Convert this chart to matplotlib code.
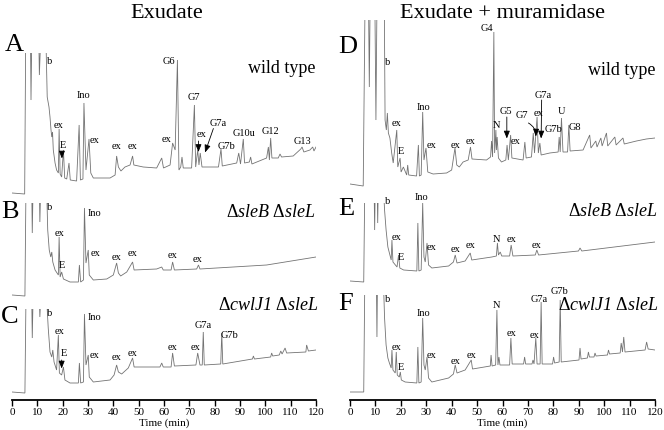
"""
HPLC traces of spore exudates, with and without muramidase digestion
"""

import matplotlib
matplotlib.use("Agg")
import matplotlib.pyplot as plt

plt.rcParams['font.family'] = ['Liberation Serif', 'DejaVu Serif']
plt.rcParams['mathtext.fontset'] = 'custom'
plt.rcParams['mathtext.rm'] = 'Liberation Serif'
plt.rcParams['mathtext.it'] = 'Liberation Serif:italic'
plt.rcParams['mathtext.cal'] = 'Liberation Serif:italic'

############## DATA (time in min, signal in arbitrary units) ###############

column_titles = ["Exudate", "Exudate + muramidase"]
tick_values = [0, 10, 20, 30, 40, 50, 60, 70, 80, 90, 100, 110, 120]
x_label = "Time (min)"

# A - exudate, wild type
a_time = [0, 5.0, 5.4, 7.3, 7.5, 7.8, 10.6, 10.8, 11.3, 13.4, 13.9, 14.6, 15.0, 15.4, 15.7,
          16.0, 16.3, 17.0, 17.6, 18.3, 18.6, 19.0, 19.6, 20.3, 20.8, 21.6, 22.5, 23.0,
          25.5, 26.5, 27.0, 28.0, 28.4, 29.2, 30.4, 31.1, 32.1, 38.7, 40.7, 41.3, 42.0,
          43.0, 44.6, 46.6, 47.6, 48.1, 51.8, 57.1, 59.1, 59.8, 62.4, 63.4, 64.4, 65.3,
          65.9, 66.6, 67.1, 67.6, 70.9, 72.0, 72.5, 73.3, 73.8, 74.3, 75.0, 81.5, 82.5,
          83.0, 88.7, 89.5, 90.2, 91.3, 91.8, 93.7, 94.2, 94.7, 100.5, 101.2, 101.6,
          102.1, 102.6, 105.1, 105.8, 106.4, 111.0, 114.0, 114.5, 115.2, 117.6, 118.7,
          119.2, 120.0]
a_sig = [7, 6, 160, 160, 100, 160, 160, 125, 160, 160, 103, 93, 83, 70, 63,
         68, 50, 37, 30, 27, 71, 26, 23, 50, 22, 21, 37, 20,
         19, 75, 20, 21, 97, 30, 61, 27, 22, 22, 25, 44, 33,
         29, 33, 35, 44, 35, 33, 32, 42, 32, 35, 57, 50, 140,
         30, 33, 43, 32, 32, 95, 33, 50, 35, 47, 33, 33, 51,
         34, 37, 47, 36, 61, 37, 38, 43, 36, 42, 53, 40,
         62, 42, 42, 46, 43, 44, 51, 53, 48, 50, 53,
         49, 53]

# B - exudate, sleB sleL
b_time = [0, 5.1, 5.5, 7.8, 8.0, 8.3, 10.8, 11.0, 11.3, 13.7, 14.1, 14.7, 15.3, 15.7, 16.1,
          17.0, 18.3, 18.6, 19.0, 19.6, 20.3, 22.9, 26.2, 26.6, 27.1, 28.2, 28.6, 29.2,
          30.1, 30.5, 32.1, 37.4, 40.0, 41.3, 42.0, 42.9, 45.3, 47.6, 48.2, 57.1, 59.1,
          59.7, 62.8, 63.4, 64.1, 72.9, 73.6, 74.2, 100.5, 120.0]
b_sig = [5, 4, 110, 110, 67, 110, 110, 78, 110, 110, 70, 50, 43, 48, 38,
         30, 25, 63, 23, 28, 21, 18, 18, 35, 18, 20, 92, 37,
         50, 25, 20, 21, 25, 37, 27, 24, 28, 38, 30, 31, 33,
         30, 30, 38, 30, 31, 35, 31, 35, 43]

# C - exudate, cwlJ1 sleL
c_time = [0, 5.1, 5.5, 7.8, 8.0, 8.3, 10.8, 11.0, 11.3, 13.7, 14.3, 15.0, 15.7, 16.1, 16.6,
          17.6, 18.3, 18.7, 19.6, 20.3, 20.9, 22.9, 26.2, 26.6, 27.1, 28.2, 28.6, 29.2,
          30.1, 30.5, 32.1, 38.7, 40.3, 41.3, 42.0, 43.3, 45.9, 47.6, 48.2, 58.4, 59.1,
          59.7, 62.8, 63.4, 64.1, 72.6, 73.3, 74.2, 75.1, 75.5, 75.9, 82.4, 82.8, 83.2,
          94.9, 95.3, 95.7, 102.1, 102.5, 102.9, 105.5, 106.1, 106.6, 107.8, 108.4,
          116.0, 116.3, 117.0, 120.0]
c_sig = [8, 7, 100, 100, 62, 100, 100, 83, 100, 100, 72, 48, 43, 50, 38,
         30, 65, 27, 25, 33, 20, 17, 17, 37, 17, 18, 86, 35,
         45, 23, 18, 20, 25, 35, 28, 26, 32, 42, 33, 33, 37,
         33, 33, 47, 34, 35, 47, 35, 35, 68, 35, 36, 67, 36,
         41, 44, 41, 43, 47, 44, 45, 49, 46, 52, 47,
         48, 55, 49, 50]

# D - exudate + muramidase, wild type
d_time = [0, 5.2, 5.9, 7.3, 7.6, 7.9, 9.8, 10.2, 10.6, 13.5, 13.8, 14.3, 14.7, 15.1, 15.7,
          16.4, 17.0, 18.4, 18.8, 19.7, 20.1, 21.0, 22.3, 22.7, 23.1, 26.2, 26.9, 27.3,
          28.0, 28.6, 29.1, 29.9, 30.6, 32.7, 38.0, 40.0, 41.3, 42.0, 43.0, 44.5, 46.5,
          47.4, 48.0, 53.7, 55.3, 55.7, 56.1, 56.6, 56.9, 57.4, 57.6, 57.9, 58.4, 59.6,
          61.3, 61.8, 62.3, 63.2, 63.7, 68.1, 68.8, 69.3, 71.4, 72.1, 72.6, 73.6, 74.1,
          74.7, 75.2, 78.6, 81.9, 82.3, 82.7, 83.2, 83.8, 85.6, 86.1, 86.6, 91.7, 94.3,
          94.8, 96.7, 97.2, 98.7, 99.2, 100.9, 101.4, 104.2, 104.7, 107.4, 107.9, 112.7,
          116.6, 120.0]
d_sig = [6, 4, 185, 185, 103, 185, 185, 70, 185, 185, 70, 60, 77, 57, 52,
         37, 27, 60, 23, 32, 18, 23, 15, 25, 15, 14, 45, 14,
         15, 78, 30, 42, 18, 16, 17, 20, 42, 25, 23, 28, 30,
         43, 31, 30, 33, 49, 33, 158, 37, 60, 40, 53, 32, 28,
         30, 45, 30, 55, 32, 30, 48, 32, 33, 57, 37, 73, 37,
         47, 35, 37, 38, 53, 38, 72, 38, 38, 65, 39, 40, 55,
         42, 49, 43, 52, 44, 57, 44, 53, 45, 52, 46, 49,
         51, 52]

# E - exudate + muramidase, sleB sleL
e_time = [0, 5.4, 5.8, 9.5, 9.7, 9.9, 10.7, 10.9, 11.1, 13.2, 13.6, 14.2, 14.9, 15.5, 16.2,
          16.5, 16.9, 18.5, 19.1, 19.6, 21.1, 26.3, 26.7, 27.1, 28.0, 28.6, 29.1, 29.6,
          30.3, 30.9, 32.2, 38.8, 40.7, 41.4, 42.1, 45.3, 47.3, 47.9, 55.8, 57.6, 58.0,
          58.4, 59.1, 59.7, 62.8, 63.4, 64.1, 72.9, 73.5, 74.2, 89.9, 90.5, 91.2, 120.0]
e_sig = [9, 8, 100, 100, 60, 100, 100, 67, 100, 100, 80, 60, 43, 37, 30,
         50, 28, 23, 35, 22, 20, 19, 67, 19, 20, 87, 33, 28,
         47, 25, 22, 24, 28, 35, 27, 29, 37, 30, 33, 34, 47,
         35, 38, 34, 34, 45, 34, 35, 40, 35, 39, 42, 39, 48]

# F - exudate + muramidase, cwlJ1 sleL
f_time = [0, 5.4, 5.8, 10.4, 10.6, 10.8, 13.2, 13.6, 14.2, 14.9, 15.5, 16.2, 16.5, 16.9,
          17.8, 18.2, 18.6, 19.4, 19.8, 20.2, 21.7, 26.3, 26.7, 27.1, 28.0, 28.6, 29.1,
          29.6, 30.3, 30.9, 32.2, 38.8, 40.7, 41.4, 42.1, 45.3, 47.7, 48.2, 55.2, 55.5,
          55.9, 57.3, 57.8, 58.2, 58.6, 59.0, 62.8, 63.3, 63.8, 68.3, 68.7, 69.1, 71.6,
          72.0, 72.4, 73.1, 73.6, 74.8, 75.2, 75.6, 79.7, 80.1, 80.5, 82.3, 82.7, 83.1,
          90.1, 90.5, 90.9, 93.4, 93.8, 94.2, 96.0, 96.4, 96.8, 101.3, 101.7, 102.1,
          106.3, 106.7, 107.2, 107.7, 108.2, 116.1, 116.7, 117.3, 120.0]
f_sig = [8, 8, 115, 115, 63, 115, 115, 82, 55, 42, 37, 32, 50, 30,
         27, 48, 25, 23, 28, 20, 18, 17, 53, 17, 18, 82, 35,
         30, 43, 22, 18, 22, 26, 35, 27, 30, 40, 31, 34, 45,
         34, 35, 90, 35, 43, 35, 35, 62, 36, 36, 43, 36, 36,
         40, 36, 62, 36, 36, 98, 36, 36, 43, 37, 38, 100, 38,
         40, 52, 41, 42, 48, 43, 43, 47, 44, 45, 50, 46,
         47, 57, 48, 63, 48, 50, 58, 51, 50]

############## LAYOUT (figure pixels) ###############

W, H = 664, 430
LEFT_COL = (12, 304)
RIGHT_COL = (350, 305)

def make_panel(fig, col, top, bottom):
    x0, w = col
    ax = fig.add_axes([x0 / W, 1 - bottom / H, w / W, (bottom - top) / H])
    ax.set_xlim(0, 120)
    ax.set_ylim(0, bottom - top)
    for s in ax.spines.values():
        s.set_visible(False)
    ax.set_xticks([])
    ax.set_yticks([])
    ax.patch.set_visible(False)
    return ax

def trace(ax, t, s):
    ax.plot(t, s, color="0.45", lw=0.6, solid_joinstyle="miter")

def peak_labels(ax, labels, size=7.5):
    for txt, t, h in labels:
        ax.text(t, h, txt, fontsize=size, ha="center", va="center")

def arrow(ax, start, end, rad=0.0):
    ax.annotate("", xy=end, xytext=start,
                arrowprops=dict(arrowstyle="-|>,head_length=0.45,head_width=0.18",
                                color="black", lw=0.6, shrinkA=0, shrinkB=0,
                                connectionstyle="arc3,rad=%s" % rad))

def time_axis(ax):
    ax.spines['bottom'].set_visible(True)
    ax.spines['bottom'].set_linewidth(1.3)
    ax.set_xticks(tick_values)
    ax.tick_params(axis='x', direction='out', length=4, width=1, labelsize=8, pad=1.5)
    ax.set_xlabel(x_label, fontsize=8, labelpad=1)

fig = plt.figure(figsize=(W / 100, H / 100), dpi=100)

fig.text(167 / W, 1 - 13 / H, column_titles[0], fontsize=16, ha="center", va="center")
fig.text(502 / W, 1 - 13 / H, column_titles[1], fontsize=16, ha="center", va="center")

for letter, x, y in [("A", 14, 45), ("B", 10, 212), ("C", 10, 317),
                     ("D", 348, 47), ("E", 346, 209), ("F", 346, 304)]:
    fig.text(x / W, 1 - y / H, letter, fontsize=19, ha="center", va="center")

wt = "wild type"
sle = r"$\Delta\mathcal{sleB}\ \Delta\mathcal{sleL}$"
cwl = r"$\Delta\mathcal{cwlJ1}\ \Delta\mathcal{sleL}$"

# A
ax = make_panel(fig, LEFT_COL, 53, 200)
trace(ax, a_time, a_sig)
ax.text(120, 131, wt, fontsize=13, ha="right", va="center")
peak_labels(ax, [("b", 14.9, 138), ("Ino", 28.2, 104), ("ex", 18.3, 74), ("E", 20.3, 54),
                 ("ex", 32.4, 59), ("ex", 41.1, 53), ("ex", 47.6, 53), ("ex", 61.1, 60),
                 ("G6", 62.0, 138), ("G7", 71.9, 102), ("G7a", 81.4, 76), ("ex", 74.9, 65),
                 ("G7b", 84.8, 53), ("G10u", 91.7, 66), ("G12", 101.9, 68), ("G13", 114.6, 58)])
arrow(ax, (19.7, 48), (19.7, 41.5))
arrow(ax, (73.6, 59), (73.6, 48))
arrow(ax, (79.5, 71.5), (76.2, 47.5))

# B
ax = make_panel(fig, LEFT_COL, 203, 300)
trace(ax, b_time, b_sig)
ax.text(120, 88, sle, fontsize=13, ha="right", va="center")
peak_labels(ax, [("b", 15.0, 93), ("Ino", 32.5, 87), ("ex", 18.6, 67), ("E", 19.6, 35),
                 ("ex", 32.8, 47), ("ex", 41.1, 42), ("ex", 47.6, 46), ("ex", 63.4, 44),
                 ("ex", 73.4, 41)])

# C
ax = make_panel(fig, LEFT_COL, 309, 400)
trace(ax, c_time, c_sig)
ax.text(121, 95, cwl, fontsize=13, ha="right", va="center")
peak_labels(ax, [("b", 15.0, 86), ("Ino", 32.5, 82), ("ex", 18.6, 68), ("E", 20.6, 47),
                 ("ex", 32.5, 44), ("ex", 41.1, 42), ("ex", 47.6, 47), ("ex", 63.4, 52),
                 ("ex", 72.6, 52), ("G7a", 75.3, 75), ("G7b", 85.8, 64)])
arrow(ax, (19.6, 40), (19.6, 31.5))
time_axis(ax)

# D
ax = make_panel(fig, RIGHT_COL, 20, 190)
trace(ax, d_time, d_sig)
ax.text(120, 120, wt, fontsize=13, ha="right", va="center")
peak_labels(ax, [("b", 14.9, 128), ("G4", 53.9, 162), ("Ino", 29.0, 83), ("ex", 18.2, 66),
                 ("E", 20.0, 38), ("ex", 32.2, 45), ("ex", 41.4, 45), ("ex", 47.6, 48),
                 ("N", 57.6, 64), ("G5", 61.5, 78), ("ex", 65.0, 48), ("G7", 67.6, 75),
                 ("ex", 74.0, 77), ("G7a", 76.0, 95), ("G7b", 80.0, 60), ("U", 83.4, 78),
                 ("G8", 88.4, 62)])
arrow(ax, (61.7, 73), (61.7, 51.5))
arrow(ax, (70.2, 67), (73.1, 53.5), rad=-0.3)
arrow(ax, (75.4, 90), (75.2, 51.5))

# E
ax = make_panel(fig, RIGHT_COL, 203, 290)
trace(ax, e_time, e_sig)
ax.text(121, 79, sle, fontsize=13, ha="right", va="center")
peak_labels(ax, [("b", 14.9, 88), ("Ino", 28.3, 92), ("ex", 18.2, 53), ("E", 20.0, 32),
                 ("ex", 32.2, 43), ("ex", 41.4, 40), ("ex", 47.6, 44), ("N", 57.5, 50),
                 ("ex", 63.4, 51), ("ex", 73.5, 44)])

# F
ax = make_panel(fig, RIGHT_COL, 295, 400)
trace(ax, f_time, f_sig)
ax.text(121.5, 95, cwl, fontsize=13, ha="right", va="center")
peak_labels(ax, [("b", 14.9, 100), ("Ino", 29.0, 86), ("ex", 18.2, 53), ("E", 20.0, 33),
                 ("ex", 32.2, 45), ("ex", 41.4, 39), ("ex", 47.7, 45), ("N", 57.5, 95),
                 ("ex", 63.4, 66), ("ex", 72.8, 65), ("G7a", 74.4, 101), ("G7b", 82.3, 108)])
time_axis(ax)

fig.savefig("out.png", dpi=100)
